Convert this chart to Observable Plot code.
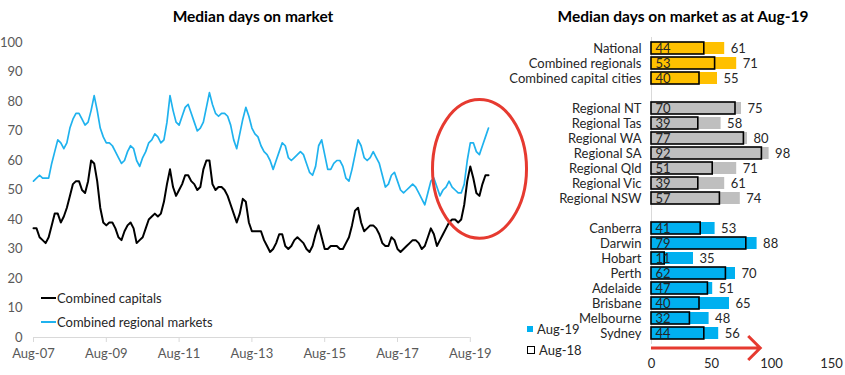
<!DOCTYPE html>
<html>
<head>
<meta charset="utf-8">
<script src="https://cdn.jsdelivr.net/npm/d3@7"></script>
<script src="https://cdn.jsdelivr.net/npm/@observablehq/plot@0.6"></script>
<style>
  body { margin: 0; background: #fff; font-family: Lato, sans-serif; }
  #root { position: relative; width: 845px; height: 375px; overflow: hidden; background: #fff; }
  .abs { position: absolute; top: 0; }
  .abs svg { max-width: none !important; }
  .title { position: absolute; top: 7px; font-weight: bold; font-size: 15.5px; color: #000; white-space: nowrap; transform: translateX(-50%); }
  .leg { position: absolute; font-size: 13px; color: #262626; white-space: nowrap; display: flex; align-items: center; height: 16px; }
  .lsw { display: inline-block; width: 15px; height: 0; margin-right: 1px; }
  .sq { display: inline-block; width: 6px; height: 6px; margin-right: 4px; box-sizing: border-box; }
</style>
</head>
<body>
<div id="root">
  <div id="left" class="abs" style="left:0;width:540px;height:375px"></div>
  <div id="right" class="abs" style="left:500px;width:345px;height:375px"></div>
  <div class="title" style="left:253px">Median days on market</div>
  <div class="title" style="left:683px">Median days on market as at Aug-19</div>
  <div class="leg" style="left:41px;top:290px"><span class="lsw" style="border-top:2px solid #000"></span>Combined capitals</div>
  <div class="leg" style="left:41px;top:314px"><span class="lsw" style="border-top:2px solid #1fb2ee"></span>Combined regional markets</div>
  <div class="leg" style="left:527px;top:321px"><span class="sq" style="background:#00b0f0"></span>Aug-19</div>
  <div class="leg" style="left:527px;top:342px"><span class="sq" style="border:1.5px solid #000;width:8px;height:8px"></span>Aug-18</div>
</div>
<script>
// ---------- Left chart data (monthly, Aug-07 onward) ----------
const tickLabels = ["Aug-07", "Aug-09", "Aug-11", "Aug-13", "Aug-15", "Aug-17", "Aug-19"];
const tickPositions = [0, 24, 48, 72, 96, 120, 144];
const yTicks = [0, 10, 20, 30, 40, 50, 60, 70, 80, 90, 100];

const combinedCapitals = [
  37,37,34,33,32,34,38,42,42,39,
  41,44,48,52,53,53,50,49,53,60,
  59,53,44,39,38,39,39,37,34,33,
  36,38,39,37,32,33,34,37,40,41,
  42,41,42,46,52,57,51,48,50,52,
  55,55,53,52,50,51,57,60,60,52,
  50,51,51,50,48,45,42,39,42,47,
  46,39,36,36,36,36,33,31,29,30,
  32,35,35,31,30,31,33,34,33,32,
  30,29,31,35,38,34,30,30,31,31,
  31,30,30,32,34,38,43,44,39,36,
  37,38,38,37,35,32,31,31,34,33,
  30,29,30,31,32,33,33,32,30,31,
  34,37,35,31,33,35,37,39,40,40,
  39,40,45,53,58,54,49,48,52,55,55
];
const combinedRegionals = [
  53,54,55,54,54,54,59,63,67,66,
  64,66,71,74,76,76,74,72,73,77,
  82,77,71,68,66,66,65,63,61,59,
  60,63,65,64,60,58,61,63,66,67,
  69,68,66,67,73,82,77,73,72,75,
  78,79,76,73,70,71,73,78,83,79,
  76,75,76,76,75,72,67,64,69,74,
  78,75,71,69,68,65,63,62,60,57,
  60,63,66,65,61,60,61,62,63,62,
  59,56,55,58,65,67,62,57,57,59,
  60,60,58,54,53,57,62,67,65,61,
  60,61,63,61,59,55,51,52,55,56,
  53,50,49,50,51,52,51,49,47,45,
  49,53,54,51,48,50,51,53,51,50,
  49,49,52,60,66,66,63,62,65,68,71
];
// highlighted recent period (red ellipse annotation), in month / days units
const highlight = { month: 147.2, value: 57, monthRadius: 15.5, valueRadius: 23.5 };

// ---------- Right chart data ----------
const categories = ["National", "Combined regionals", "Combined capital cities",
  "Regional NT", "Regional Tas", "Regional WA", "Regional SA", "Regional Qld", "Regional Vic", "Regional NSW",
  "Canberra", "Darwin", "Hobart", "Perth", "Adelaide", "Brisbane", "Melbourne", "Sydney"];
const groups = ["summary", "summary", "summary",
  "regional", "regional", "regional", "regional", "regional", "regional", "regional",
  "capital", "capital", "capital", "capital", "capital", "capital", "capital", "capital"];
const aug19 = [61, 71, 55, 75, 58, 80, 98, 71, 61, 74, 53, 88, 35, 70, 51, 65, 48, 56];
const aug18 = [44, 53, 40, 70, 39, 77, 92, 51, 39, 57, 41, 79, 11, 62, 47, 40, 32, 44];
const xTicksRight = [0, 50, 100, 150];
const arrowSpan = [0, 91];

const groupColors = { summary: "#ffc000", regional: "#bfbfbf", capital: "#00b0f0" };

// ---------- Left chart ----------
const capData = combinedCapitals.map((v, i) => ({ m: i, v }));
const regData = combinedRegionals.map((v, i) => ({ m: i, v }));

const left = Plot.plot({
  width: 540, height: 375,
  marginLeft: 33, marginRight: 52, marginTop: 42, marginBottom: 38,
  style: { fontFamily: "Lato, sans-serif", fontSize: "13px", color: "#595959", background: "transparent", overflow: "visible" },
  x: { domain: [0, 150], ticks: tickPositions, tickFormat: d => tickLabels[tickPositions.indexOf(d)], tickSize: 5, tickPadding: 6, label: null },
  y: { domain: [0, 100], ticks: yTicks, tickSize: 0, tickPadding: 11, label: null },
  marks: [
    Plot.ruleY([0], { x1: tickPositions[0], x2: tickPositions[tickPositions.length - 1], stroke: "#d9d9d9" }),
    Plot.line(capData, { x: "m", y: "v", stroke: "#000", strokeWidth: 2 }),
    Plot.line(regData, { x: "m", y: "v", stroke: "#1fb2ee", strokeWidth: 1.7 })
  ]
});
document.getElementById("left").appendChild(left);
d3.select(left).selectAll('[aria-label^="x-axis"] line, [aria-label="x-axis tick"] path').attr("stroke", "#d9d9d9");
{
  const sx = left.scale("x"), sy = left.scale("y");
  const cx = sx.apply(highlight.month), cy = sy.apply(highlight.value);
  const rx = Math.abs(sx.apply(highlight.month + highlight.monthRadius) - cx);
  const ry = Math.abs(sy.apply(highlight.value + highlight.valueRadius) - cy);
  d3.select(left).append("ellipse")
    .attr("cx", cx).attr("cy", cy).attr("rx", rx).attr("ry", ry)
    .attr("fill", "none").attr("stroke", "#e63a30").attr("stroke-width", 3);
}

// ---------- Right chart ----------
const rows = categories.map((c, i) => ({ cat: c, group: groups[i], aug19: aug19[i], aug18: aug18[i] }));
const yDomain = [];
let gapN = 0;
rows.forEach((r, i) => {
  if (i > 0 && r.group !== rows[i - 1].group) yDomain.push(" ".repeat(++gapN));
  yDomain.push(r.cat);
});

const right = Plot.plot({
  width: 345, height: 375,
  marginLeft: 151, marginRight: 14, marginTop: 37, marginBottom: 31,
  style: { fontFamily: "Lato, sans-serif", fontSize: "13px", color: "#262626", background: "transparent", overflow: "visible" },
  x: { domain: [0, 150], ticks: xTicksRight, tickSize: 0, tickPadding: 14, label: null },
  y: { domain: yDomain, padding: 0.2, tickSize: 0, tickPadding: 10, tickFormat: d => d.trim() === "" ? "" : d, label: null },
  marks: [
    Plot.ruleX([0], { stroke: "#d9d9d9" }),
    ...Object.keys(groupColors).map(g =>
      Plot.barX(rows.filter(r => r.group === g), { x: "aug19", y: "cat", fill: groupColors[g] })),
    Plot.barX(rows, { x: "aug18", y: "cat", fill: "none", stroke: "#000", strokeWidth: 1.6 }),
    Plot.text(rows, { x: 0, y: "cat", text: d => String(d.aug18), textAnchor: "start", dx: 4, fill: "#262626" }),
    Plot.text(rows, { x: "aug19", y: "cat", text: d => String(d.aug19), textAnchor: "start", dx: 6, fill: "#262626" })
  ]
});
document.getElementById("right").appendChild(right);
{
  const sx = right.scale("x"), sy = right.scale("y");
  const yb = Math.max(...sy.range) + 4;
  const x0 = sx.apply(arrowSpan[0]), x1 = sx.apply(arrowSpan[1]);
  d3.select(right).append("path")
    .attr("d", `M${x0},${yb}H${x1}M${x1 - 12},${yb - 12}L${x1},${yb}L${x1 - 12},${yb + 12}`)
    .attr("fill", "none").attr("stroke", "#e63a30").attr("stroke-width", 3);
}
</script>
</body>
</html>
